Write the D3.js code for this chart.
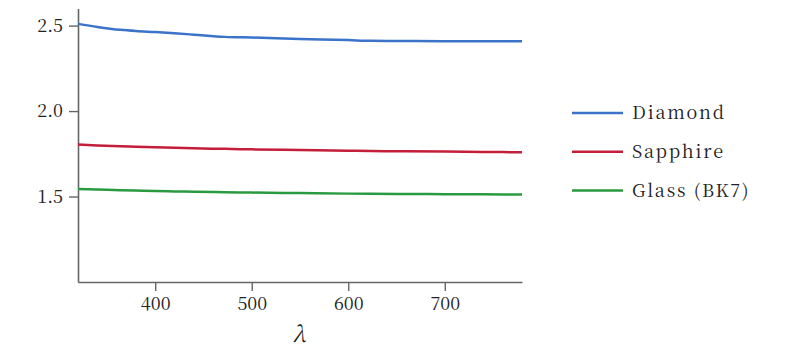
<!DOCTYPE html>
<html><head><meta charset="utf-8">
<script src="https://cdn.jsdelivr.net/npm/d3@7"></script>
<style>body{margin:0;background:#fff;}</style>
</head>
<body><svg id="c" width="786" height="355"></svg>
<script>
const wavelengths = [320, 340, 364, 380, 400, 420, 440, 472, 500, 550, 600, 623, 650, 700, 740, 780];
const diamond  = [2.510, 2.492, 2.475, 2.468, 2.462, 2.455, 2.447, 2.434, 2.430, 2.422, 2.415, 2.411, 2.410, 2.408, 2.408, 2.408];
const sapphire = [1.804, 1.799, 1.794, 1.791, 1.788, 1.785, 1.782, 1.779, 1.776, 1.772, 1.768, 1.766, 1.765, 1.763, 1.761, 1.759];
const glass    = [1.544, 1.541, 1.537, 1.535, 1.532, 1.530, 1.528, 1.525, 1.523, 1.520, 1.517, 1.516, 1.515, 1.514, 1.513, 1.512];
const seriesNames = ["Diamond", "Sapphire", "Glass (BK7)"];
const seriesColors = ["#3a73c8", "#c41e3a", "#2a9a40"];
const xTicks = [400, 500, 600, 700];
const yTicks = [1.5, 2.0, 2.5];
const xLabel = "λ";

const FONT = "Noto Serif CJK SC";
const svg = d3.select("#c");
const x = d3.scaleLinear().domain([320, 780]).range([78, 522]);
const y = d3.scaleLinear().domain([1.0, 2.6]).range([282, 8.5]);
const axisColor = "#666";

const xa = svg.append("g").attr("transform", "translate(0,282)")
  .call(d3.axisBottom(x).tickValues(xTicks).tickFormat(d3.format("d")).tickSizeInner(9).tickSizeOuter(0).tickPadding(6));
const ya = svg.append("g").attr("transform", "translate(78,0)")
  .call(d3.axisLeft(y).tickValues(yTicks).tickFormat(d3.format(".1f")).tickSizeInner(9).tickSizeOuter(0).tickPadding(6));
[xa, ya].forEach(g => {
  g.attr("font-family", FONT);
  g.select(".domain").attr("stroke", axisColor).attr("stroke-width", 1.6);
  g.selectAll(".tick line").attr("stroke", axisColor).attr("stroke-width", 1.4);
  g.selectAll(".tick text").attr("font-family", FONT).attr("font-size", 18).attr("fill", "#222");
});

const series = [diamond, sapphire, glass];
const line = d3.line().x((d, i) => x(wavelengths[i])).y(d => y(d)).curve(d3.curveMonotoneX);
series.forEach((s, k) => {
  svg.append("path").datum(s).attr("d", line).attr("fill", "none")
    .attr("stroke", seriesColors[k]).attr("stroke-width", 2.5);
});

svg.append("text").attr("x", 299).attr("y", 342).attr("text-anchor", "middle")
  .attr("font-family", FONT).attr("font-size", 22).attr("font-style", "italic").attr("fill", "#222").text(xLabel);

const lg = svg.append("g");
seriesNames.forEach((n, k) => {
  const yy = 113 + k * 38.7;
  lg.append("line").attr("x1", 572).attr("x2", 623).attr("y1", yy).attr("y2", yy)
    .attr("stroke", seriesColors[k]).attr("stroke-width", 2.5);
  lg.append("text").attr("x", 632).attr("y", yy).attr("dy", "0.35em")
    .attr("font-family", FONT).attr("font-size", 18).attr("letter-spacing", 1.8).attr("fill", "#222").text(n);
});
</script></body></html>
